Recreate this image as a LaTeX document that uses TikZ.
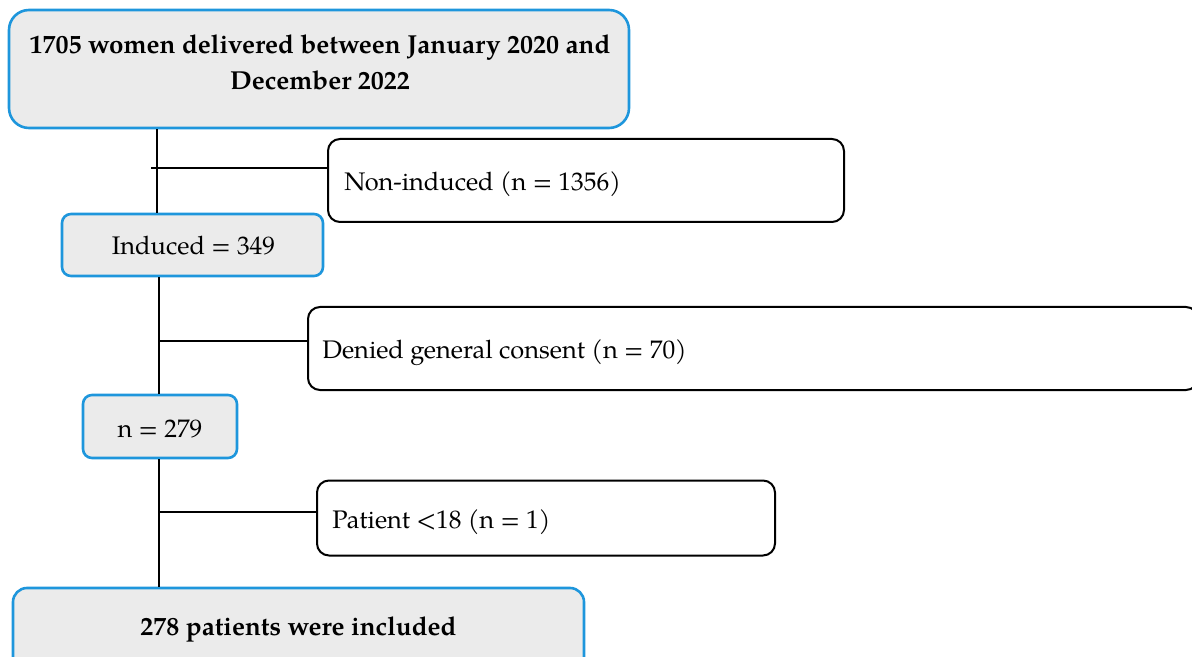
\documentclass[tikz,border=0pt]{standalone}
\usepackage{fontspec}
\setmainfont{TeX Gyre Pagella}
\definecolor{bbord}{HTML}{1E96DC}
\definecolor{bfill}{HTML}{EBEBEB}
\begin{document}
\begin{tikzpicture}[x=0.5pt,y=-0.5pt,
  bluebox/.style={draw=bbord, fill=bfill, line width=1.3pt, rounded corners=4.5pt, inner sep=0pt},
  whitebox/.style={draw=black, fill=white, line width=1pt, rounded corners=6pt, inner sep=0pt},
  txt/.style={font=\fontsize{12.7}{17}\selectfont, inner sep=0pt},
  btxt/.style={font=\fontsize{13}{17}\selectfont\bfseries, inner sep=0pt},
  conn/.style={draw=black, line width=0.9pt}]
\useasboundingbox (0,0) rectangle (1192,657);
\clip (0,0) rectangle (1192,657);
% boxes
\node[bluebox, rounded corners=10pt, minimum width=310pt, minimum height=59pt] (top) at (319,69) {};
\node[btxt, anchor=base] (toptxtA) at (320,54) {1705 women delivered between January 2020 and};
\node[btxt, anchor=base] (toptxtB) at (320,90) {December 2022};

\node[whitebox, minimum width=258pt, minimum height=41.5pt] (noninduced) at (586,180.5) {};
\node[txt, anchor=base west] (noninducedtxt) at (344,191) {Non-induced (n = 1356)};

\node[bluebox, minimum width=130.5pt, minimum height=31pt] (induced) at (192.5,245) {};
\node[txt, anchor=base] (inducedtxt) at (193.5,255) {Induced = 349};

\node[whitebox, minimum width=445pt, minimum height=41.5pt] (denied) at (753,348.5) {};
\node[txt, anchor=base west] (deniedtxt) at (322,358) {Denied general consent (n = 70)};

\node[bluebox, minimum width=77pt, minimum height=31.5pt] (nsel) at (160,426.5) {};
\node[txt, anchor=base] (nseltxt) at (160,437) {n = 279};

\node[whitebox, minimum width=229pt, minimum height=37.5pt] (patient) at (546,518) {};
\node[txt, anchor=base west] (patienttxt) at (332,528) {Patient <18 (n = 1)};

\node[bluebox, rounded corners=7pt, minimum width=285.5pt, minimum height=42pt] (final) at (298.5,630) {};
\node[btxt, anchor=base] (finaltxt) at (298.5,635) {278 patients were included};

% connectors
\coordinate (spineA) at (157,168);
\coordinate (branchA) at (151,168);
\coordinate (spineB) at (159,341);
\coordinate (spineC) at (159,512);
\draw[conn] (top.south -| spineA) -- (induced.north -| spineA);
\draw[conn] (branchA) -- (branchA -| noninduced.west);
\draw[conn] (induced.south -| spineB) -- (nsel.north -| spineB);
\draw[conn] (spineB) -- (spineB -| denied.west);
\draw[conn] (nsel.south -| spineC) -- (final.north -| spineC);
\draw[conn] (spineC) -- (spineC -| patient.west);
\end{tikzpicture}
\end{document}
